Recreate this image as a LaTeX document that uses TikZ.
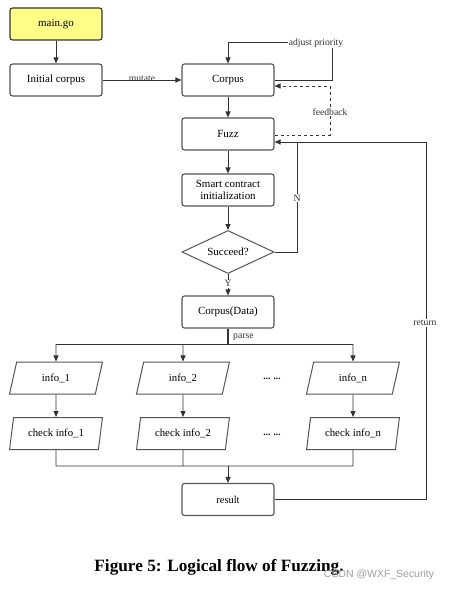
\documentclass[tikz,border=0pt]{standalone}
\usepackage{fontspec}
\setmainfont{Liberation Serif}
\newfontfamily\wmfont{Liberation Sans}
\usetikzlibrary{shapes.geometric,arrows.meta,calc}
\definecolor{boxgray}{HTML}{555555}
\definecolor{linegray}{HTML}{333333}
\definecolor{mainyellow}{HTML}{FFFF88}
\begin{document}
\begin{tikzpicture}[x=1bp,y=-1bp,
  box/.style={draw=boxgray, line width=1.1bp, rounded corners=2.5bp, minimum width=92bp, minimum height=32bp, inner sep=1bp, font=\fontsize{11}{12.5}\selectfont, align=center, fill=white},
  para/.style={trapezium, trapezium left angle=76, trapezium right angle=104, trapezium stretches=true, draw=boxgray, line width=1bp, minimum width=93bp, minimum height=32bp, inner sep=1bp, font=\fontsize{10.8}{12}\selectfont},
  dia/.style={diamond, draw=boxgray, line width=1bp, aspect=2.1, minimum width=92bp, minimum height=43bp, inner sep=0bp, font=\fontsize{11}{12.5}\selectfont},
  conn/.style={draw=linegray, line width=0.9bp, -{Triangle[length=6bp,width=5bp]}},
  plain/.style={draw=linegray, line width=0.9bp},
  lbl/.style={font=\fontsize{9.7}{11}\selectfont, inner sep=1bp, text=linegray},
  wlbl/.style={lbl, fill=white}
]
\useasboundingbox (0,0) rectangle (452,591);
\fill[white] (0,0) rectangle (452,591);

% nodes
\node[box, fill=mainyellow, draw=linegray] (main) at (56,24) {main.go};
\node[box] (init) at (56,80) {Initial corpus};
\node[box] (corpus) at (228,80) {Corpus};
\node[box] (fuzz) at (228,134) {Fuzz};
\node[box] (smart) at (228,190) {Smart contract\\initialization};
\node[dia] (succ) at (228,252) {Succeed?};
\node[box] (data) at (228,312) {Corpus(Data)};

\node[para] (i1) at (56,378) {info\_1};
\node[para] (i2) at (183,378) {info\_2};
\node[para] (in) at (353,378) {info\_n};
\node[font=\fontsize{9.5}{10}\selectfont\bfseries] (d1) at (272,379) {... ...};

\node[para] (c1) at (56,433.5) {check info\_1};
\node[para] (c2) at (183,433.5) {check info\_2};
\node[para] (cn) at (353,433.5) {check info\_n};
\node[font=\fontsize{9.5}{10}\selectfont\bfseries] (d2) at (272,435) {... ...};

\node[box, font=\fontsize{10.5}{12}\selectfont] (res) at (228,499.5) {result};

% connectors
\draw[conn] (main) -- (init);
\draw[conn] (init) -- (corpus) node[lbl, midway, yshift=1bp] (mut) {mutate};
\draw[conn] (corpus) -- (fuzz);
\draw[conn] (fuzz) -- (smart);
\draw[conn] (smart) -- (succ);
\draw[conn] (succ) -- (data) node[wlbl, midway, yshift=1bp] (ylab) {Y};

% adjust priority
\draw[conn] (corpus.east) -- (332,80) -- (332,42) -- (228,42) -- (corpus.north);
\node[wlbl] (adj) at (316,43) {adjust priority};

% feedback
\draw[conn, dashed] ($(fuzz.east)+(0,1.5)$) -- (330,135.5) -- (330,86) -- ($(corpus.east)+(0,6)$);
\node[wlbl] (fb) at (330,112) {feedback};

% N loop
\draw[plain] (succ.east) -- (297,252) -- (297,142);
\node[wlbl] (nlab) at (297,198) {N};

% return
\draw[conn] (res.east) -- (426,499.5) -- (426,142) -- ($(fuzz.east)+(0,8)$);
\node[wlbl] (ret) at (425,323) {return};

% parse
\coordinate (pj) at (228,344);
\draw[draw=linegray, line width=1.8bp] (data.south) -- (pj);
\node[lbl, anchor=west] (parse) at (232,337) {parse};
\draw[plain] (56,344) -- (353,344);
\draw[conn] (56,344) -- (i1.north);
\draw[conn] (183,344) -- (i2.north);
\draw[conn] (353,344) -- (in.north);

\draw[conn] (i1) -- (c1);
\draw[conn] (i2) -- (c2);
\draw[conn] (in) -- (cn);

% join
\coordinate (jn) at (228,466);
\draw[plain] (c1.south) -- (56,466) -- (353,466) -- (cn.south);
\draw[plain] (c2.south) -- (183,466);
\draw[conn] (jn) -- (res.north);

% caption
\node[font=\fontsize{17.3}{20}\selectfont\bfseries] (cap) at (219,567) {Figure 5: Logical flow of Fuzzing.};
\node[font=\wmfont\fontsize{10.5}{12}\selectfont, text=black!38] (wm) at (379,575) {CSDN @WXF\_Security};
\end{tikzpicture}
\end{document}
